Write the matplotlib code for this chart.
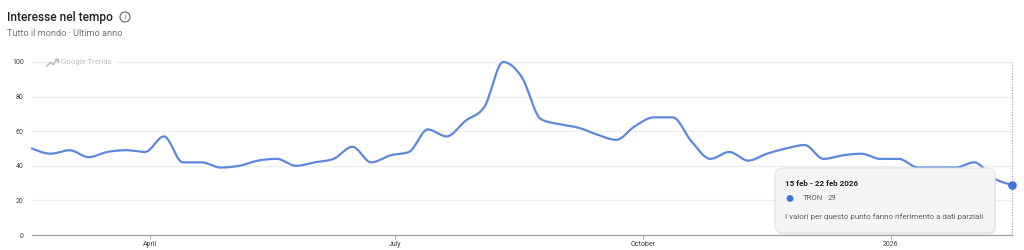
import numpy as np
import pandas as pd
import matplotlib
matplotlib.use("Agg")
import matplotlib.pyplot as plt
import matplotlib.dates as mdates
from matplotlib.patches import FancyBboxPatch, Circle
from matplotlib.lines import Line2D
from matplotlib.transforms import IdentityTransform

# ---------------- data ----------------
start_week = "2025-02-16"
series_name = "TRON"
interest = [50, 47, 49, 45, 48, 49, 48, 57, 42, 42, 39, 40, 43, 44, 40, 42, 44, 51,
            42, 46, 48, 61, 57, 66, 74, 100, 91, 67, 64, 62, 58, 55, 63, 68, 68, 54,
            44, 48, 43, 47, 50, 52, 44, 46, 47, 44, 44, 39, 39, 39, 42, 33, 29]
tick_dates = ["2025-04-01", "2025-07-01", "2025-10-01", "2026-01-01"]
tick_labels = ["April", "July", "October", "2026"]
y_ticks = [0, 20, 40, 60, 80, 100]
title = "Interesse nel tempo"
subtitle = "Tutto il mondo \u00b7 Ultimo anno"
tooltip_title = "15 feb - 22 feb 2026"
tooltip_note = "I valori per questo punto fanno riferimento a dati parziali"
watermark = "Google Trends"

plt.rcParams['font.family'] = ['Roboto', 'DejaVu Sans']

W, H = 1024, 250
fig = plt.figure(figsize=(W / 100, H / 100), dpi=100)
fig.patch.set_facecolor("white")

ax = fig.add_axes([32 / W, 1 - 235 / H, (1012 - 32) / W, (235 - 62) / H])
ax.set_facecolor("white")

dates = pd.date_range(start_week, periods=len(interest), freq="7D")
xn = mdates.date2num(dates.to_pydatetime())
yv = np.asarray(interest, dtype=float)


def monotone_curve(x, y, n=20):
    """d3 curveMonotoneX style smoothing through the given points."""
    h = np.diff(x)
    s = np.diff(y) / h
    t = np.zeros_like(y)
    for i in range(1, len(y) - 1):
        s0, s1 = s[i - 1], s[i]
        p = (s0 * h[i] + s1 * h[i - 1]) / (h[i - 1] + h[i])
        t[i] = (np.sign(s0) + np.sign(s1)) * min(abs(s0), abs(s1), 0.5 * abs(p))
    t[0] = (3 * s[0] - t[1]) / 2 if len(y) > 2 else s[0]
    t[-1] = (3 * s[-1] - t[-2]) / 2 if len(y) > 2 else s[-1]
    xs, ys = [], []
    u = np.linspace(0, 1, n, endpoint=False)
    for i in range(len(y) - 1):
        dx = h[i] / 3
        p0 = (x[i], y[i])
        p1 = (x[i] + dx, y[i] + dx * t[i])
        p2 = (x[i + 1] - dx, y[i + 1] - dx * t[i + 1])
        p3 = (x[i + 1], y[i + 1])
        b = [(1 - u) ** 3, 3 * (1 - u) ** 2 * u, 3 * (1 - u) * u ** 2, u ** 3]
        xs.append(b[0] * p0[0] + b[1] * p1[0] + b[2] * p2[0] + b[3] * p3[0])
        ys.append(b[0] * p0[1] + b[1] * p1[1] + b[2] * p2[1] + b[3] * p3[1])
    xs.append([x[-1]])
    ys.append([y[-1]])
    return np.concatenate(xs), np.concatenate(ys)


cx, cy = monotone_curve(xn, yv)
line_color = "#5c88dd"
ax.plot(cx, cy, color=line_color, lw=1.6, solid_capstyle="round", zorder=3, clip_on=False)

ax.set_xlim(xn[0], xn[-1])
ax.set_ylim(0, 100)

# grid
for v in y_ticks[1:]:
    ax.axhline(v, color="#ececec", lw=0.8, zorder=1, clip_on=False)
for sp in ["top", "right", "left"]:
    ax.spines[sp].set_visible(False)
ax.spines["bottom"].set_color("#9aa0a6")
ax.spines["bottom"].set_linewidth(0.9)

ax.set_yticks(y_ticks)
ax.set_yticklabels([str(v) for v in y_ticks])
ax.tick_params(axis="y", length=0, pad=6, labelsize=5, labelcolor="#3c4043")

tx = mdates.date2num(pd.to_datetime(tick_dates).to_pydatetime())
ax.set_xticks(tx)
ax.set_xticklabels(tick_labels)
ax.tick_params(axis="x", length=3, width=0.6, color="#9aa0a6", pad=1.5,
               labelsize=5, labelcolor="#3c4043")

# dotted vertical hover line at last point
ax.axvline(xn[-1], color="#9aa0a6", lw=0.8, ls=(0, (1, 1.5)), zorder=2, clip_on=False)
ax.plot([xn[-1]], [yv[-1]], "o", ms=5.2, color="#3f73dc", zorder=6, clip_on=False)

# watermark
ax.text(0.03, 1.0, watermark, transform=ax.transAxes, fontsize=5.6, color="#bdbdbd",
        va="center", ha="left", zorder=4,
        bbox=dict(boxstyle="square,pad=0.35", fc="white", ec="none"))
ident = IdentityTransform()
fig.lines.append(Line2D([47, 50.5, 53, 57.5], [H - 66, H - 62.5, H - 64.5, H - 59.5],
                        transform=ident, color="#b5b5b5", lw=1.0, zorder=5))
fig.lines.append(Line2D([55, 58, 58], [H - 59, H - 59, H - 62],
                        transform=ident, color="#b5b5b5", lw=1.0, zorder=5))

# header
fig.text(7 / W, 1 - 17 / H, title, fontsize=8.6, fontweight="medium", color="#202124",
         va="center", ha="left")
circ = Circle((125, H - 17), 5, transform=ident, fill=False, ec="#5f6368", lw=0.8)
fig.patches.append(circ)
fig.text(125 / W, 1 - 17.3 / H, "i", fontsize=5, color="#5f6368", ha="center", va="center")
fig.text(7 / W, 1 - 33 / H, subtitle, fontsize=6.6, color="#70757a", va="center", ha="left")

# tooltip
shadow = FancyBboxPatch((776, H - 235), 220, 66, boxstyle="round,pad=0,rounding_size=8",
                        transform=ident, fc="#d9d9d9", ec="none", alpha=0.5, zorder=7)
fig.patches.append(shadow)
box = FancyBboxPatch((775, H - 233), 220, 65, boxstyle="round,pad=0,rounding_size=8",
                     transform=ident, fc="#f4f5f7", ec="#dfe1e5", lw=0.8, zorder=8)
fig.patches.append(box)
fig.text(785 / W, 1 - 184 / H, tooltip_title, fontsize=5.8, fontweight="bold",
         color="#202124", va="center", ha="left", zorder=9)
dot = Circle((790, H - 198.5), 3.4, transform=ident, fc="#3f73dc", ec="none", zorder=9)
fig.patches.append(dot)
fig.text(803 / W, 1 - 198.5 / H, series_name, fontsize=5.6, color="#5f6368",
         va="center", ha="left", zorder=9)
fig.text(828 / W, 1 - 198.5 / H, str(interest[-1]), fontsize=5.6, color="#5f6368",
         va="center", ha="left", zorder=9)
fig.text(785 / W, 1 - 217 / H, tooltip_note, fontsize=5.75, color="#5f6368",
         va="center", ha="left", zorder=9)

fig.savefig("out.png", dpi=100, facecolor="white")
